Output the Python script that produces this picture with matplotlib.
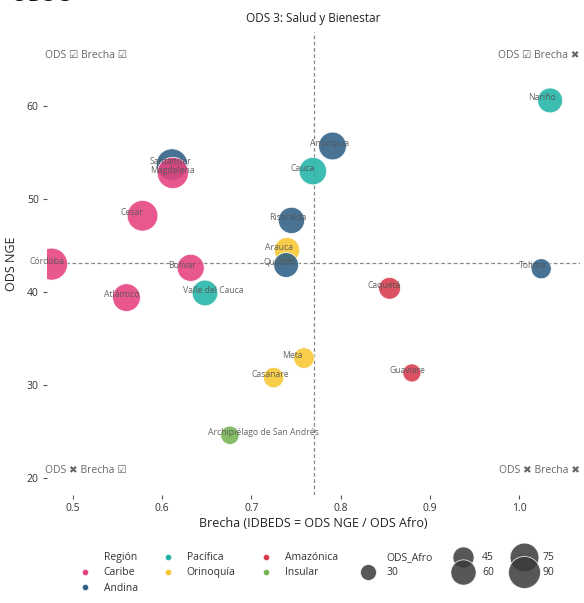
import numpy as np
import matplotlib
matplotlib.use("Agg")
import matplotlib.pyplot as plt
from matplotlib.lines import Line2D

plt.rcParams['font.family'] = ['Open Sans', 'DejaVu Sans']

# datos
departamentos = ['Nariño', 'Antioquia', 'Cauca', 'Santander', 'Magdalena', 'Cesar',
                 'Risaralda', 'Arauca', 'Quindío', 'Córdoba', 'Bolívar', 'Tolima',
                 'Atlántico', 'Valle del Cauca', 'Caquetá', 'Meta', 'Casanare',
                 'Guaviare', 'Archipiélago de San Andrés']
region = ['Pacífica', 'Andina', 'Pacífica', 'Andina', 'Caribe', 'Caribe',
          'Andina', 'Orinoquía', 'Andina', 'Caribe', 'Caribe', 'Andina',
          'Caribe', 'Pacífica', 'Amazónica', 'Orinoquía', 'Orinoquía',
          'Amazónica', 'Insular']
brecha = [1.035, 0.791, 0.769, 0.611, 0.612, 0.578, 0.745, 0.740, 0.739, 0.476,
          0.632, 1.025, 0.560, 0.648, 0.855, 0.759, 0.725, 0.880, 0.676]
ods_nge = [60.6, 55.7, 53.0, 53.7, 52.8, 48.2, 47.7, 44.5, 42.9, 43.0,
           42.6, 42.5, 39.4, 39.9, 40.4, 32.9, 30.8, 31.3, 24.6]
ods_afro = [58.6, 70.4, 68.9, 87.9, 86.3, 83.4, 64.0, 60.1, 58.1, 90.3,
            67.4, 41.5, 70.3, 61.6, 47.3, 43.3, 42.5, 35.6, 36.4]

regiones = ['Caribe', 'Andina', 'Pacífica', 'Orinoquía', 'Amazónica', 'Insular']
colores = ['#E5417F', '#2F6085', '#22B3A7', '#F8C630', '#D93A4D', '#74B350']
tallas_leyenda = [30, 45, 60, 75, 90]

ref_brecha = 0.770
ref_ods = 43.1

pal = dict(zip(regiones, colores))


def radio_px(v):
    # area proporcional al valor de ODS_Afro
    return np.sqrt(64 + (np.asarray(v) - 30) * 3.2)


def area_pt(v):
    return (2 * radio_px(v) * 0.72) ** 2


fig = plt.figure(figsize=(5.84, 6.03), dpi=100)
ax = fig.add_axes([0.0805, 0.179, 0.9125, 0.768])

ax.axvline(ref_brecha, color='#888888', lw=0.9, ls=(0, (3, 2)), zorder=1)
ax.axhline(ref_ods, color='#888888', lw=0.9, ls=(0, (3, 2)), zorder=1)

ax.scatter(brecha, ods_nge, s=area_pt(ods_afro),
           c=[pal[r] for r in region], alpha=0.88,
           edgecolors='white', linewidths=0.6, zorder=2)

for nombre, x, y in zip(departamentos, brecha, ods_nge):
    ax.text(x - 0.025, y + 0.3, nombre, ha='left', va='center',
            fontsize=6.2, color='#555555', alpha=0.9, zorder=3)

ax.set_xlim(0.4709, 1.0684)
ax.set_ylim(18.17, 67.96)
ax.set_xticks([0.5, 0.6, 0.7, 0.8, 0.9, 1.0])
ax.set_yticks([20, 30, 40, 50, 60])
ax.tick_params(length=3, width=0.8, color='#555555', labelsize=7.5,
               labelcolor='#333333', pad=3)
for sp in ax.spines.values():
    sp.set_visible(False)

ax.set_xlabel('Brecha (IDBEDS = ODS NGE / ODS Afro)', fontsize=9, color='#222222', labelpad=2)
ax.set_ylabel('ODS NGE', fontsize=9, color='#222222', labelpad=6)
ax.set_title('ODS 3: Salud y Bienestar', fontsize=8.5, color='#222222', pad=7)

kw = dict(transform=ax.transAxes, fontsize=7.5, color='#666666')
ax.text(-0.004, 0.950, 'ODS ☑ Brecha ☑', ha='left', va='center', **kw)
ax.text(1.0, 0.950, 'ODS ☑ Brecha ✖', ha='right', va='center', **kw)
ax.text(-0.004, 0.052, 'ODS ✖ Brecha ☑', ha='left', va='center', **kw)
ax.text(1.0, 0.052, 'ODS ✖ Brecha ✖', ha='right', va='center', **kw)

# titulo cortado arriba
fig.text(0.018, 1 - 1.0 / 603, 'ODS 3', fontsize=15, fontweight='bold',
         va='baseline', color='#111111')

# leyenda estilo seaborn
handles = [Line2D([], [], ls='none')]
labels = ['Región']
for r, c in zip(regiones, colores):
    handles.append(Line2D([], [], ls='none', marker='o', markersize=4.5,
                          markerfacecolor=c, markeredgecolor='white', markeredgewidth=0.4))
    labels.append(r)
handles.append(Line2D([], [], ls='none'))
labels.append('ODS_Afro')
for t in tallas_leyenda:
    handles.append(Line2D([], [], ls='none', marker='o',
                          markersize=2 * radio_px(t) * 0.72,
                          markerfacecolor='#3a3a3a', alpha=0.85,
                          markeredgecolor='white', markeredgewidth=0.6))
    labels.append(str(t))

fig.legend(handles, labels, ncol=6, loc='upper left', bbox_to_anchor=(0.1114, 0.0996),
           frameon=False, fontsize=7.5, labelcolor='#333333',
           handletextpad=0.8, columnspacing=1.9, labelspacing=0.4)

fig.savefig('out.png', dpi=100)
